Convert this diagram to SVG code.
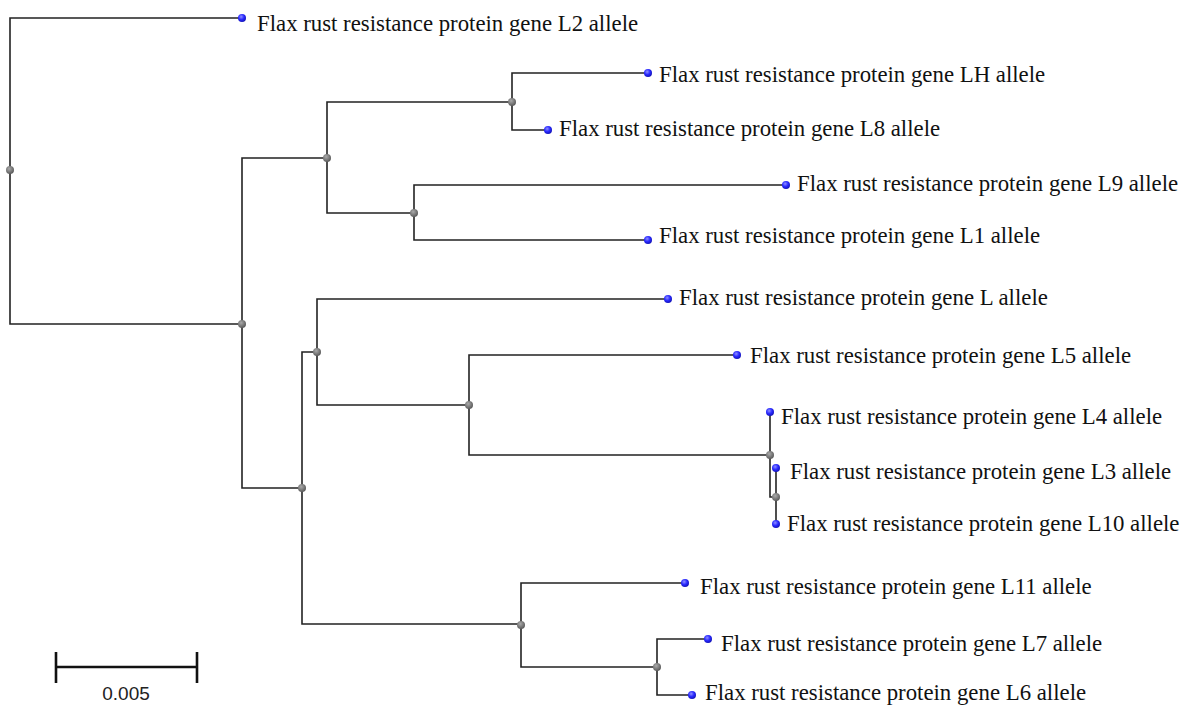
<svg xmlns="http://www.w3.org/2000/svg" width="1188" height="705" viewBox="0 0 1188 705">
<defs>
<radialGradient id="bg" cx="0.4" cy="0.35" r="0.7">
<stop offset="0" stop-color="#8f8fff"/>
<stop offset="0.5" stop-color="#2a2aff"/>
<stop offset="1" stop-color="#1010b0"/>
</radialGradient>
<radialGradient id="gg" cx="0.4" cy="0.35" r="0.7">
<stop offset="0" stop-color="#aaaaaa"/>
<stop offset="1" stop-color="#555555"/>
</radialGradient>
<style>
.br{fill:none;stroke:#222;stroke-width:1.6}
.leaf{fill:url(#bg)}
.inode{fill:url(#gg)}
.lbl{font-family:"Liberation Serif","Times New Roman",serif;font-size:22.8px;fill:#111}
.scale{stroke:#111;stroke-width:2.6;fill:none}
.stxt{font-family:"Liberation Sans",Arial,sans-serif;font-size:19px;fill:#222}
</style>
</defs>
<rect width="1188" height="705" fill="#fff"/>
<g id="connectors">
<path class="br" d="M242,18H10V324H242"/>
<path class="br" d="M327,158H242V488H302"/>
<path class="br" d="M512,102H327V213H414"/>
<path class="br" d="M648,73H512V130H548"/>
<path class="br" d="M786,185H414V240H648"/>
<path class="br" d="M317,352H302V624H521"/>
<path class="br" d="M668,299H317V405H469"/>
<path class="br" d="M737,355H469V455H770"/>
<path class="br" d="M770,413V497H776"/>
<path class="br" d="M776,468V523"/>
<path class="br" d="M685,583H521V667H657"/>
<path class="br" d="M708,639H657V695H692"/>
</g>
<g id="internal-nodes">
<circle class="inode" cx="10" cy="170" r="4"/>
<circle class="inode" cx="242" cy="324" r="4"/>
<circle class="inode" cx="327" cy="158" r="4"/>
<circle class="inode" cx="512" cy="102" r="4"/>
<circle class="inode" cx="414" cy="213" r="4"/>
<circle class="inode" cx="302" cy="488" r="4"/>
<circle class="inode" cx="317" cy="352" r="4"/>
<circle class="inode" cx="469" cy="405" r="4"/>
<circle class="inode" cx="770" cy="455" r="4"/>
<circle class="inode" cx="776" cy="497" r="4"/>
<circle class="inode" cx="521" cy="625" r="4"/>
<circle class="inode" cx="657" cy="667" r="4"/>
</g>
<g id="leaf-L2"><circle class="leaf" cx="242" cy="18" r="4"/><text class="lbl" x="257" y="31">Flax rust resistance protein gene L2 allele</text></g>
<g id="leaf-LH"><circle class="leaf" cx="648" cy="73" r="4"/><text class="lbl" x="659" y="82">Flax rust resistance protein gene LH allele</text></g>
<g id="leaf-L8"><circle class="leaf" cx="548" cy="130" r="4"/><text class="lbl" x="559" y="136">Flax rust resistance protein gene L8 allele</text></g>
<g id="leaf-L9"><circle class="leaf" cx="786" cy="185" r="4"/><text class="lbl" x="797" y="191">Flax rust resistance protein gene L9 allele</text></g>
<g id="leaf-L1"><circle class="leaf" cx="648" cy="240" r="4"/><text class="lbl" x="659" y="243">Flax rust resistance protein gene L1 allele</text></g>
<g id="leaf-L"><circle class="leaf" cx="668" cy="299" r="4"/><text class="lbl" x="679" y="305">Flax rust resistance protein gene L allele</text></g>
<g id="leaf-L5"><circle class="leaf" cx="737" cy="355" r="4"/><text class="lbl" x="750" y="363">Flax rust resistance protein gene L5 allele</text></g>
<g id="leaf-L4"><circle class="leaf" cx="770" cy="412" r="4"/><text class="lbl" x="781" y="424">Flax rust resistance protein gene L4 allele</text></g>
<g id="leaf-L3"><circle class="leaf" cx="776" cy="468" r="4"/><text class="lbl" x="790" y="479">Flax rust resistance protein gene L3 allele</text></g>
<g id="leaf-L10"><circle class="leaf" cx="776" cy="524" r="4"/><text class="lbl" x="787" y="531">Flax rust resistance protein gene L10 allele</text></g>
<g id="leaf-L11"><circle class="leaf" cx="685" cy="583" r="4"/><text class="lbl" x="700" y="594">Flax rust resistance protein gene L11 allele</text></g>
<g id="leaf-L7"><circle class="leaf" cx="708" cy="639" r="4"/><text class="lbl" x="721" y="651">Flax rust resistance protein gene L7 allele</text></g>
<g id="leaf-L6"><circle class="leaf" cx="692" cy="695" r="4"/><text class="lbl" x="705" y="700">Flax rust resistance protein gene L6 allele</text></g>
<g id="scale-bar">
<path class="scale" d="M56,652V683M56,667H197M197,652V683"/>
<text class="stxt" x="126" y="700" text-anchor="middle">0.005</text>
</g>
</svg>
